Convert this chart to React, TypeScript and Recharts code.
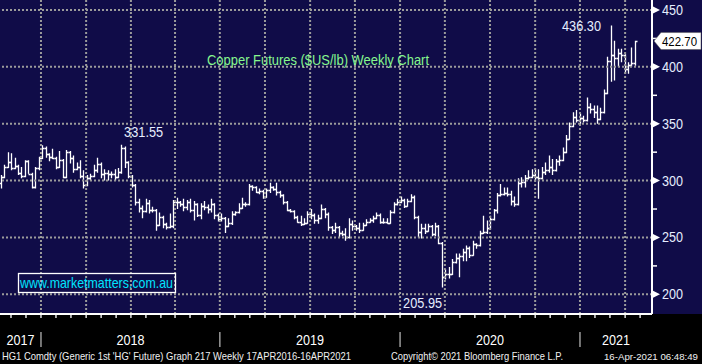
import React from "react";
import { ComposedChart, Bar, XAxis, YAxis, ReferenceLine, ReferenceDot } from "recharts";

// HG1 copper, weekly bars: first bar = week ending 6 Oct 2017, last = 16 Apr 2021
const opens = [
  298, 303, 312, 316, 311, 313, 307, 304, 317, 306,
  294, 311, 320, 329, 323, 321, 320, 312, 318, 303,
  325, 320, 310, 312, 304, 296, 302, 304, 309, 315,
  306, 307, 306, 306, 303, 308, 329, 316, 304, 296,
  281, 276, 273, 280, 274, 274, 261, 268, 262, 259,
  260, 281, 281, 279, 277, 281, 274, 279, 270, 278,
  277, 275, 279, 270, 266, 267, 260, 263, 271, 272,
  276, 279, 279, 295, 294, 290, 291, 286, 292, 294,
  293, 290, 287, 281, 274, 273, 268, 264, 262, 263,
  271, 270, 265, 267, 275, 271, 259, 257, 259, 254,
  253, 250, 262, 260, 258, 257, 261, 264, 265, 267,
  270, 264, 264, 263, 272, 279, 281, 283, 278, 282,
  286, 268, 255, 258, 256, 260, 253, 260, 245, 215,
  218, 218, 228, 232, 234, 237, 241, 235, 244, 243,
  254, 255, 258, 266, 274, 287, 288, 289, 288, 282,
  279, 298, 299, 302, 303, 305, 303, 302, 308, 309,
  312, 309, 317, 318, 325, 337, 348, 356, 353, 355,
  353, 365, 363, 360, 354, 360, 377, 405, 410, 408,
  412, 410, 398, 402, 403,
];
const highs = [
  305, 314, 325, 324, 320, 314, 312, 318, 318, 307,
  312, 321, 331, 330, 324, 328, 321, 326, 319, 327,
  326, 322, 316, 318, 309, 305, 306, 314, 320, 316,
  310, 309, 308, 310, 311, 331.55, 330, 317, 305, 297,
  284, 278, 284, 283, 277, 275, 272, 269, 263, 271,
  283, 285, 282, 284, 283, 284, 282, 280, 280, 282,
  279, 284, 280, 271, 271, 268, 267, 273, 273, 280,
  285, 281, 297, 296, 295, 293, 292, 293, 298, 295,
  298, 291, 288, 282, 275, 274, 269, 269, 267, 273,
  275, 271, 270, 279, 276, 272, 260, 263, 260, 256,
  258, 267, 265, 261, 263, 263, 266, 267, 269, 272,
  271, 267, 267, 274, 281, 284, 286, 284, 284, 288,
  287, 269, 262, 262, 262, 261, 263, 261, 246, 222,
  224, 231, 236, 236, 240, 243, 242, 247, 245, 256,
  269, 265, 269, 275, 289, 297, 294, 294, 291, 286,
  302, 303, 305, 309, 310, 310, 310, 312, 316, 322,
  319, 319, 322, 329, 340, 351, 360, 362, 359, 357,
  373, 368, 366, 366, 364, 380, 409, 436.3, 423, 416,
  416, 411, 404, 417, 423,
];
const lows = [
  293, 302, 311, 309, 310, 305, 302, 303, 306, 293,
  293, 309, 319, 320, 317, 319, 310, 311, 302, 302,
  315, 307, 309, 302, 293, 295, 300, 303, 307, 302,
  300, 300, 302, 300, 302, 306, 311, 302, 294, 278,
  272, 267, 272, 271, 272, 256, 260, 258, 257, 258,
  258, 275, 277, 273, 274, 272, 265, 268, 266, 274,
  271, 272, 266, 264, 264, 254, 259, 261, 269, 271,
  275, 277, 278, 291, 289, 288, 284, 285, 289, 291,
  287, 285, 279, 273, 272, 266, 263, 260, 261, 262,
  266, 262, 262, 266, 267, 256, 253, 254, 250, 251,
  247, 249, 256, 256, 254, 256, 260, 263, 263, 266,
  262, 262, 262, 262, 271, 278, 280, 276, 277, 281,
  266, 250, 249, 253, 255, 251, 251, 244, 205.95, 213,
  214, 217, 227, 215, 229, 229, 232, 234, 240, 242,
  253, 253, 257, 265, 271, 286, 287, 286, 278, 277,
  278, 294, 294, 301, 302, 300, 284, 301, 305, 307,
  305, 308, 313, 317, 324, 336, 347, 351, 350, 351,
  352, 359, 355, 350, 353, 359, 376, 387, 388, 400,
  404, 394, 394, 400, 401,
];
const closes = [
  303, 312, 316, 311, 313, 307, 304, 317, 306, 294,
  311, 320, 329, 323, 321, 320, 312, 318, 303, 325,
  320, 310, 312, 304, 296, 302, 304, 309, 315, 306,
  307, 306, 306, 303, 308, 329, 316, 304, 296, 281,
  276, 273, 280, 274, 274, 261, 268, 262, 259, 260,
  281, 281, 279, 277, 281, 274, 279, 270, 278, 277,
  275, 279, 270, 266, 267, 260, 263, 271, 272, 276,
  279, 279, 295, 294, 290, 291, 286, 292, 294, 293,
  290, 287, 281, 274, 273, 268, 264, 262, 263, 271,
  270, 265, 267, 275, 271, 259, 257, 259, 254, 253,
  250, 262, 260, 258, 257, 261, 264, 265, 267, 270,
  264, 264, 263, 272, 279, 281, 283, 278, 282, 286,
  268, 255, 258, 256, 260, 253, 260, 245, 215, 218,
  218, 228, 232, 234, 237, 241, 235, 244, 243, 254,
  255, 258, 266, 274, 287, 288, 289, 288, 282, 279,
  298, 299, 302, 303, 305, 303, 302, 308, 309, 312,
  309, 317, 318, 325, 337, 348, 356, 353, 355, 353,
  365, 363, 360, 354, 360, 377, 405, 410, 408, 412,
  410, 398, 402, 403, 422.7,
];

// axis layout in week units (week 0 = first bar)
const priceTicks = [200, 250, 300, 350, 400, 450];
const minorTicks = [225, 275, 325, 375, 425];
const quarterWeeks = [11.6, 24.7, 37.7, 50.5, 63.5, 76.6, 89.7, 102.7, 115.8, 128.8, 141.9, 155.0, 168.0, 181.1];
const yearStarts = [11.6, 63.5, 115.8, 168.0];
const yearLabels = ["2017", "2018", "2019", "2020", "2021"];
const X_DOMAIN: [number, number] = [-0.29, 188.9];
const Y_DOMAIN: [number, number] = [182.7, 458.8];

// highlighted highs / lows (week index)
const callouts = [
  { i: 35, value: highs[35], side: "high-right" },
  { i: 128, value: lows[128], side: "low-left" },
  { i: 177, value: highs[177], side: "high-left" },
];

const NAVY = "#100c48";
const FONT = '"Liberation Sans", Arial, sans-serif';
const LABEL = "#e6eeff";

const data = closes.map((c, i) => ({
  i,
  open: opens[i],
  high: highs[i],
  low: lows[i],
  close: c,
  range: [lows[i], highs[i]],
}));
const lastIdx = closes.length - 1;
const lastClose = closes[lastIdx];

const monthTicks = [quarterWeeks[0] - 8.7, quarterWeeks[0] - 4.35].concat(
  ...quarterWeeks.map((q) => [q, q + 4.35, q + 8.7])
).filter((t) => t < X_DOMAIN[1]);

const yearCenters = yearLabels.map((_, k) => {
  const a = k === 0 ? X_DOMAIN[0] : yearStarts[k - 1];
  const b = k === yearStarts.length ? X_DOMAIN[1] : yearStarts[k];
  return (a + b) / 2;
});

function OhlcBar(props: any) {
  const { x, y, width, height, payload } = props;
  if (x == null || !payload) return null;
  const { open, high, low, close } = payload;
  const cx = Math.round(x + width / 2) + 0.5;
  const span = high - low || 1;
  const py = (v: number) => Math.round(y + ((high - v) / span) * height) + 0.5;
  const d = `M${cx},${y}V${y + height}M${cx - 2},${py(open)}H${cx}M${cx},${py(close)}H${cx + 2}`;
  return <path d={d} stroke="#ffffff" strokeWidth={1.3} fill="none" />;
}

function PriceTick(props: any) {
  const { x, y, payload } = props;
  const v = payload.value;
  if (v === lastClose) {
    return (
      <g>
        <path
          d={`M${x + 2},${y} L${x + 9},${y - 8.5} H${x + 49} V${y + 8.5} H${x + 9} Z`}
          fill="#ffffff"
          stroke="#555"
          strokeWidth={0.5}
        />
        <text x={x + 10} y={y + 5} fontSize={13.5} fontFamily={FONT} fill="#000" textLength={35} lengthAdjust="spacingAndGlyphs">
          {v.toFixed(2)}
        </text>
      </g>
    );
  }
  if (v % 50 === 0) {
    return (
      <g>
        <polygon points={`${x + 1},${y - 3.5} ${x + 8},${y} ${x + 1},${y + 3.5}`} fill="#ffffff" />
        <text x={x + 10} y={y + 5} fontSize={14} fontFamily={FONT} fill={LABEL} textLength={21} lengthAdjust="spacingAndGlyphs">
          {v}
        </text>
      </g>
    );
  }
  return <line x1={x} x2={x + 5} y1={y} y2={y} stroke="#ffffff" strokeWidth={1.5} />;
}

function MonthTick(props: any) {
  const { x, y } = props;
  return <line x1={x} x2={x} y1={y} y2={y + 4} stroke="#ffffff" strokeWidth={1.3} />;
}

function YearTick(props: any) {
  const { x, y, payload } = props;
  const v = payload.value;
  if (yearStarts.includes(v)) {
    return <line x1={x} x2={x} y1={y + 1} y2={y + 16} stroke="#9a9a9a" strokeWidth={1.5} />;
  }
  const k = yearCenters.indexOf(v);
  return (
    <text x={x} y={y + 14} textAnchor="middle" fontSize={14} fontFamily={FONT} fill="#ffffff" textLength={28} lengthAdjust="spacingAndGlyphs">
      {yearLabels[k]}
    </text>
  );
}

function Callout(props: any, c: { value: number; side: string }) {
  const { cx, cy } = props;
  const txt = c.value.toFixed(2);
  let x = cx + 2.5;
  let y = cy - 8;
  let anchor: "start" | "end" = "start";
  if (c.side === "low-left") {
    x = cx;
    y = cy + 20;
    anchor = "end";
  } else if (c.side === "high-left") {
    x = cx - 10;
    y = cy + 5;
    anchor = "end";
  }
  return (
    <text x={x} y={y} textAnchor={anchor} fontSize={14} fontFamily={FONT} fill={LABEL} textLength={39} lengthAdjust="spacingAndGlyphs">
      {txt}
    </text>
  );
}

const gridStyle = { stroke: "#9b9b9b", strokeWidth: 2, strokeDasharray: "2 2" };

export default function App() {
  return (
    <div
      style={{
        position: "absolute",
        left: 0,
        top: 0,
        width: 702,
        height: 364,
        background: `linear-gradient(${NAVY} 0px, ${NAVY} 314px, #000 314px, #000 364px)`,
        fontFamily: FONT,
      }}
    >
      <ComposedChart width={702} height={364} data={data} margin={{ top: 0, right: 0, bottom: 0, left: 0 }}>
        <XAxis
          dataKey="i"
          type="number"
          domain={X_DOMAIN}
          allowDataOverflow
          ticks={monthTicks}
          interval={0}
          tick={<MonthTick />}
          tickLine={false}
          tickSize={0}
          tickMargin={0}
          axisLine={{ stroke: "#ffffff", strokeWidth: 2 }}
          height={17}
        />
        <XAxis
          xAxisId="year"
          dataKey="i"
          type="number"
          domain={X_DOMAIN}
          allowDataOverflow
          ticks={[...yearStarts, ...yearCenters]}
          interval={0}
          tick={<YearTick />}
          tickLine={false}
          tickSize={0}
          tickMargin={0}
          axisLine={false}
          height={33}
        />
        <YAxis
          orientation="right"
          type="number"
          domain={Y_DOMAIN}
          allowDataOverflow
          ticks={[...priceTicks, ...minorTicks, lastClose]}
          interval={0}
          tick={<PriceTick />}
          tickLine={false}
          tickSize={0}
          tickMargin={0}
          axisLine={{ stroke: "#ffffff", strokeWidth: 2 }}
          width={50}
        />
        {priceTicks.map((v) => (
          <ReferenceLine key={`h${v}`} y={v} {...gridStyle} />
        ))}
        {quarterWeeks.map((w) => (
          <ReferenceLine key={`v${w}`} x={w} {...gridStyle} />
        ))}
        <Bar dataKey="range" barSize={3} isAnimationActive={false} shape={(p: any) => <OhlcBar {...p} />} />
        {callouts.map((c) => (
          <ReferenceDot
            key={c.i}
            x={c.i}
            y={c.value}
            r={1}
            ifOverflow="visible"
            shape={(p: any) => Callout(p, c)}
          />
        ))}
      </ComposedChart>
      <svg width={702} height={364} style={{ position: "absolute", left: 0, top: 0, pointerEvents: "none" }}>
        <text x={207} y={64.5} fontSize={14} fontFamily={FONT} fill="#86f78e" textLength={222} lengthAdjust="spacingAndGlyphs">
          Copper Futures ($US/lb) Weekly Chart
        </text>
        <rect x={18.5} y={273.5} width={157} height={19} fill="none" stroke="#ffffff" strokeWidth={1.3} />
        <text x={20} y={288} fontSize={14.5} fontFamily={FONT} fill="#00e4ff" textLength={153} lengthAdjust="spacingAndGlyphs">
          www.marketmatters.com.au
        </text>
        <text x={2} y={359.5} fontSize={11} fontFamily={FONT} fill="#f0f0f0" textLength={349} lengthAdjust="spacingAndGlyphs">
          HG1 Comdty (Generic 1st 'HG' Future) Graph 217  Weekly 17APR2016-16APR2021
        </text>
        <text x={391} y={359.5} fontSize={11} fontFamily={FONT} fill="#f0f0f0" textLength={172} lengthAdjust="spacingAndGlyphs">
          Copyright© 2021 Bloomberg Finance L.P.
        </text>
        <text x={604} y={359.5} fontSize={9} fontFamily={FONT} fill="#f0f0f0" textLength={94} lengthAdjust="spacingAndGlyphs">
          16-Apr-2021 06:48:49
        </text>
      </svg>
    </div>
  );
}
